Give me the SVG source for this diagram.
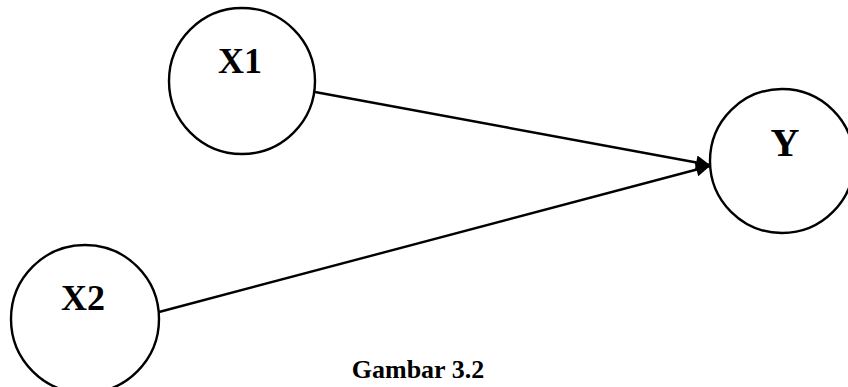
<svg xmlns="http://www.w3.org/2000/svg" width="848" height="387" viewBox="0 0 848 387">
<style>
.node{fill:#fff;stroke:#000;stroke-width:2.4}
.lbl{font-family:"Liberation Serif",serif;font-weight:bold;font-size:36px;fill:#000;text-anchor:middle}
.edge{stroke:#000;stroke-width:2.4;fill:none}
</style>
<defs>
<marker id="arr" viewBox="0 0 10 10" refX="10" refY="5" markerWidth="18" markerHeight="14" markerUnits="userSpaceOnUse" orient="auto">
<path d="M0,0 L10,5 L0,10 z" fill="#000"/>
</marker>
</defs>
<rect width="848" height="387" fill="#fff"/>
<g id="connectors">
<line class="edge" x1="315" y1="92" x2="710" y2="165" marker-end="url(#arr)"/>
<line class="edge" x1="159" y1="312" x2="710" y2="166" marker-end="url(#arr)"/>
</g>
<g id="X1">
<circle class="node" cx="242" cy="81" r="73"/>
<text class="lbl" x="240" y="73">X1</text>
</g>
<g id="Y">
<circle class="node" cx="782" cy="161" r="72"/>
<text class="lbl" x="785" y="156" style="font-size:40px">Y</text>
</g>
<g id="X2">
<circle class="node" cx="85" cy="319" r="74"/>
<text class="lbl" x="83" y="310">X2</text>
</g>
<text x="418" y="378" text-anchor="middle" style="font-family:'Liberation Serif',serif;font-weight:bold;font-size:26px">Gambar 3.2</text>
</svg>
